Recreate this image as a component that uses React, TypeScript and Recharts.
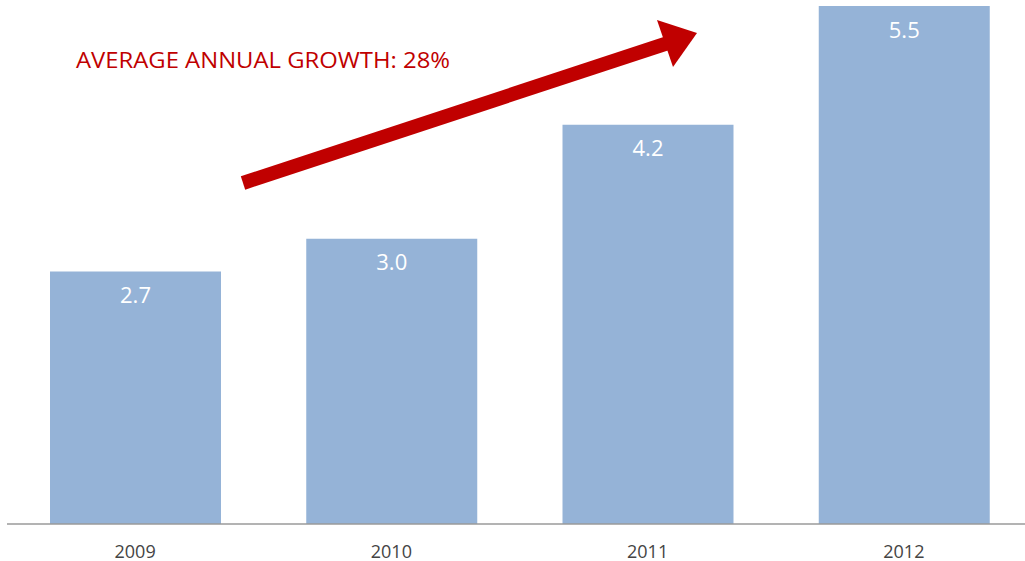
import React from "react";
import { BarChart, Bar, XAxis, YAxis, LabelList, Customized } from "recharts";

const years = ["2009", "2010", "2011", "2012"];
const values = [2.68, 3.03, 4.24, 5.5];
const growthNote = "AVERAGE ANNUAL GROWTH: 28%";

const data = years.map((year, i) => ({ year, value: values[i] }));

const FONT = "'Open Sans', 'Noto Sans', sans-serif";

// the red trend arrow and its caption
const Annotation = () => {
  return (
    <g>
      <line x1={243} y1={183} x2={668} y2={43} stroke="#c00000" strokeWidth={14} />
      <polygon points="657,20 697,33 673,67" fill="#c00000" />
      <text
        x={76}
        y={68}
        fill="#c00000"
        fontSize={21}
        fontFamily={FONT}
        textLength={374}
        lengthAdjust="spacingAndGlyphs"
      >
        {growthNote}
      </text>
    </g>
  );
};

const App: React.FC = () => {
  return (
    <div
      style={{
        position: "absolute",
        left: 0,
        top: 0,
        width: 1025,
        height: 561,
        overflow: "hidden",
        background: "#fff",
      }}
    >
      <BarChart
        width={1032}
        height={561}
        data={data}
        margin={{ top: 6, right: 0, bottom: 0, left: 7 }}
      >
        <YAxis type="number" domain={[0, 5.5]} hide={true} />
        <XAxis
          dataKey="year"
          height={37}
          tickLine={false}
          axisLine={{ stroke: "#9a9a9a", strokeWidth: 1.5 }}
          tick={{ fill: "#444", fontSize: 18, fontFamily: FONT }}
          tickMargin={15}
          interval={0}
        />
        <Bar dataKey="value" fill="#95b3d7" barSize={171} isAnimationActive={false}>
          <LabelList
            dataKey="value"
            position="insideTop"
            offset={16}
            fill="#fff"
            fontSize={22}
            fontFamily={FONT}
            formatter={(v: number) => v.toFixed(1)}
          />
        </Bar>
        <Customized component={Annotation} />
      </BarChart>
    </div>
  );
};

export default App;
